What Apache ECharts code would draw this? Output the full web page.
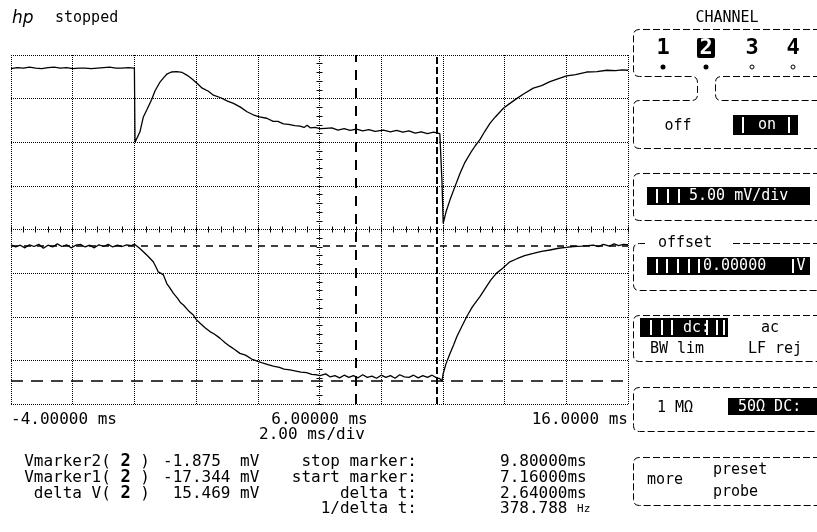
<!DOCTYPE html>
<html lang="en">
<head>
<meta charset="UTF-8">
<title>scope</title>
<script src="https://cdn.jsdelivr.net/npm/echarts@6/dist/echarts.min.js"></script>
<style>html,body{margin:0;background:#fff;}</style>
</head>
<body>
<div id="main" style="width:817px;height:532px;"></div>
<script type="text/javascript">
// channel 1 (upper trace), time in ms, level in screen units (5 mV/div scale)
const ch1Time = [-4.0, -3.8, -3.6, -3.4, -3.2, -3.0, -2.8, -2.6, -2.4, -2.2, -2.0, -1.8, -1.6, -1.4, -1.2, -1.0, -0.8, -0.6, -0.4, -0.2, 0.0,
  0.02, 0.1, 0.18, 0.29, 0.4, 0.56, 0.67, 0.83, 0.95, 1.05, 1.2, 1.37, 1.55, 1.7, 1.85, 2.02, 2.2, 2.4, 2.56, 2.8, 3.0, 3.21, 3.45, 3.65, 3.85,
  4.05, 4.29, 4.5, 4.65, 4.83, 5.0, 5.2, 5.37, 5.5, 5.6, 5.7, 5.85, 6.02, 6.2, 6.4, 6.6, 6.8, 6.99, 7.2, 7.4, 7.6, 7.8, 8.07, 8.3, 8.5, 8.7,
  8.9, 9.1, 9.3, 9.5, 9.7, 9.9, 9.96, 9.97, 10.01, 10.1, 10.23, 10.4, 10.55, 10.7, 10.9, 11.05, 11.2, 11.35, 11.53, 11.7, 11.96, 12.15,
  12.39, 12.6, 12.93, 13.2, 13.47, 13.75, 14.01, 14.3, 14.66, 15.0, 15.31, 15.6, 15.8, 16.0];
const ch1Volt = [18.45, 18.55, 18.5, 18.6, 18.5, 18.45, 18.55, 18.6, 18.5, 18.55, 18.45, 18.5, 18.5, 18.45, 18.5, 18.55, 18.6, 18.5, 18.5, 18.55, 18.5,
  10.0, 10.6, 11.2, 12.9, 13.7, 14.9, 15.9, 16.9, 17.4, 17.8, 18.05, 18.1, 18.0, 17.7, 17.3, 16.8, 16.2, 15.85, 15.4, 15.1, 14.75, 14.45, 14.0, 13.5, 13.15,
  12.9, 12.75, 12.4, 12.4, 12.1, 12.05, 11.9, 11.85, 11.7, 11.95, 11.65, 11.7, 11.55, 11.6, 11.65, 11.4, 11.55, 11.35, 11.5, 11.3, 11.45, 11.25, 11.4, 11.2, 11.35, 11.15,
  11.3, 11.05, 11.2, 11.0, 11.15, 11.0, 11.05, 5.5, 0.7, 2.0, 3.4, 5.0, 6.4, 7.6, 8.8, 9.6, 10.3, 11.2, 12.2, 12.9, 13.9, 14.4,
  15.0, 15.5, 16.2, 16.5, 16.95, 17.3, 17.6, 17.75, 18.05, 18.1, 18.25, 18.2, 18.3, 18.25];

// channel 2 (lower trace), mV
const ch2Time = [-4.0, -3.85, -3.7, -3.55, -3.4, -3.25, -3.1, -2.95, -2.8, -2.65, -2.5, -2.35, -2.2, -2.05, -1.9, -1.75, -1.6, -1.45, -1.3, -1.15,
  -1.0, -0.85, -0.7, -0.55, -0.4, -0.25, -0.1, 0.0, 0.15, 0.29, 0.45, 0.61, 0.7, 0.77, 0.85, 0.94, 1.05, 1.15, 1.26, 1.4, 1.5, 1.59, 1.75, 1.91,
  2.0, 2.13, 2.3, 2.45, 2.6, 2.77, 2.95, 3.1, 3.25, 3.42, 3.6, 3.8, 3.96, 4.15, 4.3, 4.5, 4.7, 4.85, 5.04, 5.2, 5.4, 5.58, 5.75, 5.9, 6.02,
  6.2, 6.35, 6.5, 6.65, 6.8, 6.95, 7.1, 7.25, 7.4, 7.55, 7.7, 7.85, 8.0, 8.15, 8.3, 8.45, 8.6, 8.75, 8.9, 9.05, 9.2, 9.35, 9.5, 9.65, 9.8, 9.9,
  9.97, 10.01, 10.1, 10.23, 10.35, 10.45, 10.6, 10.77, 10.95, 11.05, 11.2, 11.4, 11.55, 11.74, 11.95, 12.17, 12.4, 12.65, 12.93, 13.2, 13.47,
  13.75, 14.0, 14.23, 14.5, 14.7, 14.88, 15.05, 15.2, 15.4, 15.55, 15.7, 15.85, 16.0];
const ch2Volt = [-1.75, -2.0, -1.8, -2.1, -1.75, -1.95, -1.7, -2.15, -1.8, -2.0, -1.65, -1.95, -1.75, -2.1, -1.8, -1.7, -2.0, -1.8, -2.1, -1.75,
  -1.95, -1.7, -2.0, -1.8, -1.95, -1.75, -1.85, -1.7, -2.1, -2.55, -3.1, -3.7, -4.3, -4.85, -5.0, -5.2, -6.2, -6.7, -7.3, -7.9, -8.4, -8.65, -9.3, -9.8,
  -10.3, -10.75, -11.3, -11.7, -12.0, -12.45, -13.0, -13.4, -13.75, -14.2, -14.4, -14.85, -15.05, -15.3, -15.45, -15.65, -15.8, -16.0, -16.1, -16.2, -16.35, -16.4, -16.6, -16.65, -16.75,
  -16.55, -16.9, -16.75, -17.0, -16.7, -16.95, -16.75, -17.0, -16.65, -16.95, -16.8, -17.05, -16.7, -16.95, -16.75, -17.05, -16.65, -16.9, -16.95, -16.7, -17.0, -16.75, -16.95, -16.7, -17.0, -17.1,
  -17.4, -16.5, -15.4, -14.2, -13.2, -12.3, -11.2, -10.0, -8.9, -8.4, -7.7, -6.6, -5.8, -5.0, -4.4, -3.7, -3.35, -3.0, -2.75, -2.5, -2.35,
  -2.15, -2.05, -1.95, -1.9, -1.85, -1.8, -1.95, -1.7, -1.9, -1.65, -1.85, -1.7, -1.75];

// cursors
const markerTimes = [7.16, 9.80];        // start, stop (ms)
const markerVolts = [-17.344, -1.875];   // Vmarker1, Vmarker2 (mV)

// time axis labels
const timeTicks = [-4, 6, 16];
const timeTickLabels = ['-4.00000 ms', '6.00000 ms', '16.0000 ms'];

// readouts
const readNames = ['Vmarker2( {b|2} )', 'Vmarker1( {b|2} )', 'delta V( {b|2} )'];
const readVals = ['-1.875  mV', '-17.344 mV', ' 15.469 mV'];
const timeNames = ['stop marker:', 'start marker:', 'delta t:', '1/delta t:'];
const timeVals = ['9.80000ms', '7.16000ms', '2.64000ms', '378.788 {s|Hz}'];

const MONO = '"DejaVu Sans Mono", monospace';

var myChart = echarts.init(document.getElementById('main'));

function pairs(xs, ys) { return xs.map((x, i) => [x, ys[i]]); }

function txt(x, y, s, opt) {
    return {
        type: 'text', x: x, y: y, z: 20,
        style: Object.assign({
            text: s, fill: '#000', fontFamily: MONO, fontSize: 16,
            align: 'left', verticalAlign: 'middle'
        }, opt || {})
    };
}
// polyline through the given corners, with the inner corners rounded
function rounded(pts, r) {
    const out = [pts[0]];
    for (let i = 1; i < pts.length - 1; i++) {
        const p = pts[i], a = pts[i - 1], b = pts[i + 1];
        const la = Math.hypot(a[0] - p[0], a[1] - p[1]), lb = Math.hypot(b[0] - p[0], b[1] - p[1]);
        const s = [p[0] + (a[0] - p[0]) / la * r, p[1] + (a[1] - p[1]) / la * r];
        const e = [p[0] + (b[0] - p[0]) / lb * r, p[1] + (b[1] - p[1]) / lb * r];
        for (let k = 0; k <= 4; k++) {
            const t = k / 4, u = 1 - t;
            out.push([u * u * s[0] + 2 * u * t * p[0] + t * t * e[0], u * u * s[1] + 2 * u * t * p[1] + t * t * e[1]]);
        }
    }
    out.push(pts[pts.length - 1]);
    return out;
}
function outline(pts) {
    return {
        type: 'polyline', z: 10, shape: { points: rounded(pts, 6) },
        style: { fill: null, stroke: '#000', lineWidth: 1, lineDash: [7, 3] }
    };
}
function blk(x, y, w, h, r) {
    return { type: 'rect', z: 15, shape: { x: x, y: y, width: w, height: h, r: r || 0 }, style: { fill: '#000' } };
}
function gap(x, y, h) {
    return { type: 'rect', z: 16, shape: { x: x, y: y, width: 2, height: h }, style: { fill: '#fff' } };
}

const graphic = [
    // header
    txt(12, 19, 'hp', { fontFamily: '"DejaVu Sans"', fontStyle: 'italic', fontSize: 17 }),
    txt(55, 18, 'stopped', { fontSize: 15 }),
    txt(312, 435, '2.00 ms/div', { align: 'center' }),

    // right panel outlines
    outline([[830, 29.5], [633.5, 29.5], [633.5, 76.5], [697.5, 76.5], [697.5, 100.5], [633.5, 100.5], [633.5, 148.5], [830, 148.5]]),
    outline([[830, 76.5], [715.5, 76.5], [715.5, 100.5], [830, 100.5]]),
    outline([[830, 173.5], [633.5, 173.5], [633.5, 220.5], [830, 220.5]]),
    outline([[645, 243.5], [633.5, 243.5], [633.5, 290.5], [830, 290.5]]),
    outline([[733, 243.5], [830, 243.5]]),
    outline([[830, 315.5], [633.5, 315.5], [633.5, 361.5], [830, 361.5]]),
    outline([[830, 387.5], [633.5, 387.5], [633.5, 431.5], [830, 431.5]]),
    outline([[830, 457.5], [633.5, 457.5], [633.5, 505.5], [830, 505.5]]),

    txt(727, 18, 'CHANNEL', { align: 'center', fontSize: 15 }),
    txt(663, 48, '1', { align: 'center', fontSize: 22, fontWeight: 'bold' }),
    blk(697, 38, 18, 20, 2),
    txt(706, 48, '2', { align: 'center', fontSize: 22, fontWeight: 'bold', fill: '#fff' }),
    txt(752, 48, '3', { align: 'center', fontSize: 22, fontWeight: 'bold' }),
    txt(793, 48, '4', { align: 'center', fontSize: 22, fontWeight: 'bold' }),
    { type: 'circle', z: 20, shape: { cx: 663, cy: 67, r: 2.5 }, style: { fill: '#000' } },
    { type: 'circle', z: 20, shape: { cx: 706, cy: 67, r: 2.5 }, style: { fill: '#000' } },
    { type: 'circle', z: 20, shape: { cx: 752, cy: 67, r: 2 }, style: { fill: '#fff', stroke: '#000', lineWidth: 1 } },
    { type: 'circle', z: 20, shape: { cx: 793, cy: 67, r: 2 }, style: { fill: '#fff', stroke: '#000', lineWidth: 1 } },

    txt(678, 126, 'off', { align: 'center', fontSize: 15 }),
    blk(733, 115, 65, 20), gap(742, 117, 16), gap(788, 117, 16),
    txt(767, 125, 'on', { align: 'center', fontSize: 15, fill: '#fff' }),

    blk(647, 187, 163, 18), gap(656, 189, 14), gap(667, 189, 14), gap(678, 189, 14),
    txt(689, 196, '5.00 mV/div', { fontSize: 15, fill: '#fff' }),

    txt(658, 243, 'offset', { fontSize: 15 }),
    blk(647, 257, 163, 18), gap(656, 259, 14), gap(666, 259, 14), gap(677, 259, 14), gap(688, 259, 14), gap(698, 259, 14), gap(792, 259, 14),
    txt(703, 266, '0.00000', { fontSize: 15, fill: '#fff' }),
    txt(801, 266, 'V', { align: 'center', fontSize: 15, fill: '#fff' }),

    blk(640, 318, 88, 19), gap(650, 320, 15), gap(661, 320, 15), gap(671, 320, 15), gap(706, 320, 15), gap(716, 320, 15), gap(723, 320, 15),
    txt(683, 328, 'dc:', { fontSize: 15, fill: '#fff' }),
    txt(770, 328, 'ac', { align: 'center', fontSize: 15 }),
    txt(677, 349, 'BW lim', { align: 'center', fontSize: 15 }),
    txt(775, 349, 'LF rej', { align: 'center', fontSize: 15 }),

    txt(657, 408, '1 M\u03a9', { fontSize: 15 }),
    blk(728, 398, 95, 17),
    txt(738, 407, '50\u03a9 DC:', { fontSize: 15, fill: '#fff' }),

    txt(647, 480, 'more', { fontSize: 15 }),
    txt(713, 470, 'preset', { fontSize: 15 }),
    txt(713, 492, 'probe', { fontSize: 15 })
];

// measurement readouts
const rowY = [462, 478, 494, 509];
readNames.forEach((s, i) => {
    graphic.push(txt(150, rowY[i], s, { align: 'right', rich: { b: { fontFamily: MONO, fontSize: 17, fontWeight: 'bold' } } }));
    graphic.push(txt(163, rowY[i], readVals[i]));
});
timeNames.forEach((s, i) => {
    graphic.push(txt(417, rowY[i], s, { align: 'right' }));
    graphic.push(txt(500, rowY[i], timeVals[i], { rich: { s: { fontFamily: MONO, fontSize: 11 } } }));
});

const dotted = { color: '#000', width: 1, type: [1, 1] };
const inkTick = { color: '#000', width: 1 };
const hiddenLine = { show: true, onZero: true, lineStyle: { opacity: 0 } };

function tickX(idx, inside) {
    return {
        gridIndex: 1, type: 'value', min: -10, max: 10, interval: 2, position: 'bottom',
        axisLine: Object.assign({ onZeroAxisIndex: idx }, hiddenLine),
        axisTick: { show: true, inside: inside, length: 3, lineStyle: inkTick },
        minorTick: { show: true, splitNumber: 5, length: 3, lineStyle: inkTick },
        axisLabel: { show: false }, splitLine: { show: false }
    };
}
function tickY(idx, inside) {
    return {
        gridIndex: 1, type: 'value', min: -20, max: 20, interval: 5, position: 'left',
        axisLine: Object.assign({ onZeroAxisIndex: idx }, hiddenLine),
        axisTick: { show: true, inside: inside, length: 3, lineStyle: inkTick },
        minorTick: { show: true, splitNumber: 5, length: 3, lineStyle: inkTick },
        axisLabel: { show: false }, splitLine: { show: false }
    };
}

var option = {
    animation: false,
    backgroundColor: '#fff',
    graphic: graphic,
    grid: [
        { left: 11, top: 55, width: 617, height: 349 },
        { left: 11, top: 55, width: 617, height: 349 }
    ],
    xAxis: [
        {
            gridIndex: 0, type: 'value', min: -4, max: 16, interval: 2,
            axisLine: { show: false }, axisTick: { show: false },
            splitLine: { show: true, lineStyle: dotted },
            axisLabel: {
                color: '#000', fontFamily: MONO, fontSize: 16, margin: 8,
                showMinLabel: true, showMaxLabel: true,
                alignMinLabel: 'left', alignMaxLabel: 'right',
                formatter: function (v) {
                    const i = timeTicks.indexOf(v);
                    return i >= 0 ? timeTickLabels[i] : '';
                }
            }
        },
        tickX(1, false),
        tickX(2, true)
    ],
    yAxis: [
        {
            gridIndex: 0, type: 'value', min: -20, max: 20, interval: 5,
            axisLine: { show: false }, axisTick: { show: false }, axisLabel: { show: false },
            splitLine: { show: true, lineStyle: dotted }
        },
        tickY(1, false),
        tickY(2, true)
    ],
    series: [
        {
            name: 'ch1', type: 'line', xAxisIndex: 0, yAxisIndex: 0,
            data: pairs(ch1Time, ch1Volt), showSymbol: false, silent: true,
            lineStyle: { color: '#000', width: 1.3 }
        },
        {
            name: 'ch2', type: 'line', xAxisIndex: 0, yAxisIndex: 0,
            data: pairs(ch2Time, ch2Volt), showSymbol: false, silent: true,
            lineStyle: { color: '#000', width: 1.3 },
            markLine: {
                silent: true, symbol: 'none', label: { show: false },
                lineStyle: { color: '#000' },
                data: [
                    { xAxis: markerTimes[0], lineStyle: { color: '#000', width: 2, type: [10, 8] } },
                    { xAxis: markerTimes[1], lineStyle: { color: '#000', width: 2, type: [7, 3] } },
                    { yAxis: markerVolts[0], lineStyle: { color: '#000', width: 1.5, type: [12, 8] } },
                    { yAxis: markerVolts[1], lineStyle: { color: '#000', width: 1.5, type: [7, 6] } }
                ]
            }
        }
    ]
};

myChart.setOption(option);
</script>
</body>
</html>
